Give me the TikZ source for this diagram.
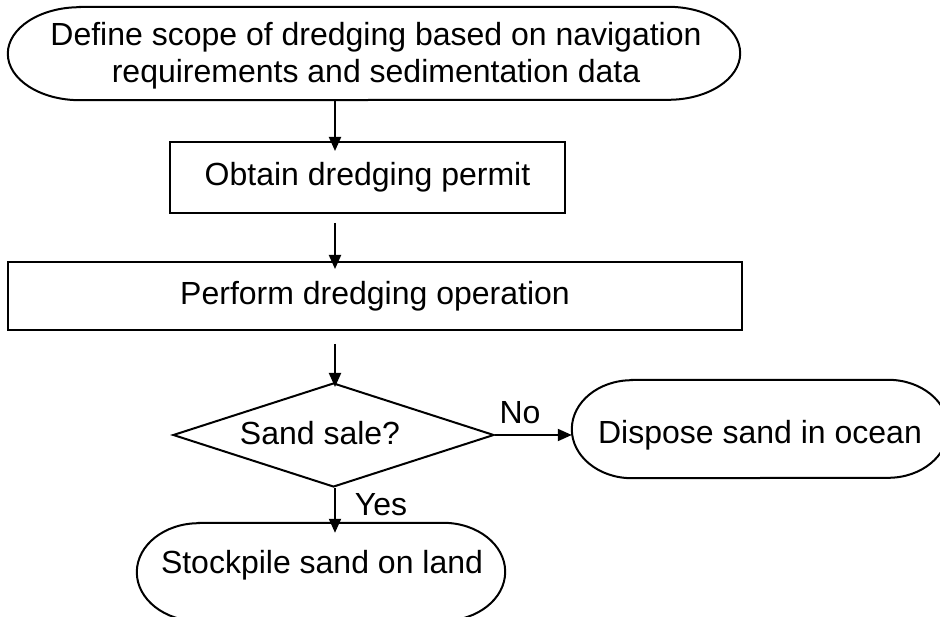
\documentclass[tikz,border=0pt]{standalone}
\usepackage{fontspec}
\setmainfont{Liberation Sans}
\usetikzlibrary{shapes.geometric,arrows.meta}
\begin{document}
\begin{tikzpicture}[x=1pt,y=-1pt,
  every node/.style={font=\fontsize{32}{37}\selectfont, inner sep=0pt},
  procbox/.style={draw, line width=2pt, rectangle},
  termbox/.style={rectangle},
  decbox/.style={draw, line width=2pt, diamond, minimum width=321pt, minimum height=104pt},
  arr/.style={line width=2pt, -{Triangle[length=14pt,width=12pt]}}
]
\useasboundingbox (0,0) rectangle (940,617);

% terminal outline macro: node, rx, ry
\newcommand{\termoutline}[3]{%
  \draw[line width=2pt] ([xshift=#2]#1.north west) -- ([xshift=-#2]#1.north east)
    arc[start angle=90,end angle=-90,x radius=#2,y radius=#3]
    -- ([xshift=#2]#1.south west)
    arc[start angle=270,end angle=90,x radius=#2,y radius=#3] -- cycle;}

\node[termbox, minimum width=732pt, minimum height=93pt] (top) at (374,53.5) {};
\termoutline{top}{72pt}{46.5pt}
\node[align=center] (toptext) at (376,55.5)
  {Define scope of dredging based on navigation\\requirements and sedimentation data};

\node[procbox, minimum width=395pt, minimum height=71pt] (perm) at (367.5,177.5) {Obtain dredging permit};
\node[procbox, minimum width=734pt, minimum height=68pt] (oper) at (375,296) {Perform dredging operation};

\node[decbox] (dec) at (333.5,435) {};
\node (dectext) at (320,433) {Sand sale?};

\node[termbox, minimum width=376pt, minimum height=98pt] (disp) at (760,429) {};
\termoutline{disp}{60pt}{49pt}
\node (disptext) at (760,435) {Dispose sand in ocean};

\node[termbox, minimum width=368pt, minimum height=98pt] (stock) at (321,572) {};
\termoutline{stock}{62pt}{49pt}
\node (stocktext) at (322,565) {Stockpile sand on land};

\coordinate (spine) at (335,0);

\draw[arr, shorten >=-10pt] (top.south -| spine) -- (perm.north -| spine);
\draw[arr, shorten <=9pt, shorten >=-8pt] (perm.south -| spine) -- (oper.north -| spine);
\draw[arr, shorten <=13pt, shorten >=-5pt] (oper.south -| spine) -- (dec.north -| spine);
\draw[arr, shorten >=-10pt] (dec.south -| spine) -- (stock.north -| spine);
\draw[arr] (dec.east) -- (dec.east -| disp.west);

\node (no) at (520,413) {No};
\node (yes) at (381,505) {Yes};
\end{tikzpicture}
\end{document}
